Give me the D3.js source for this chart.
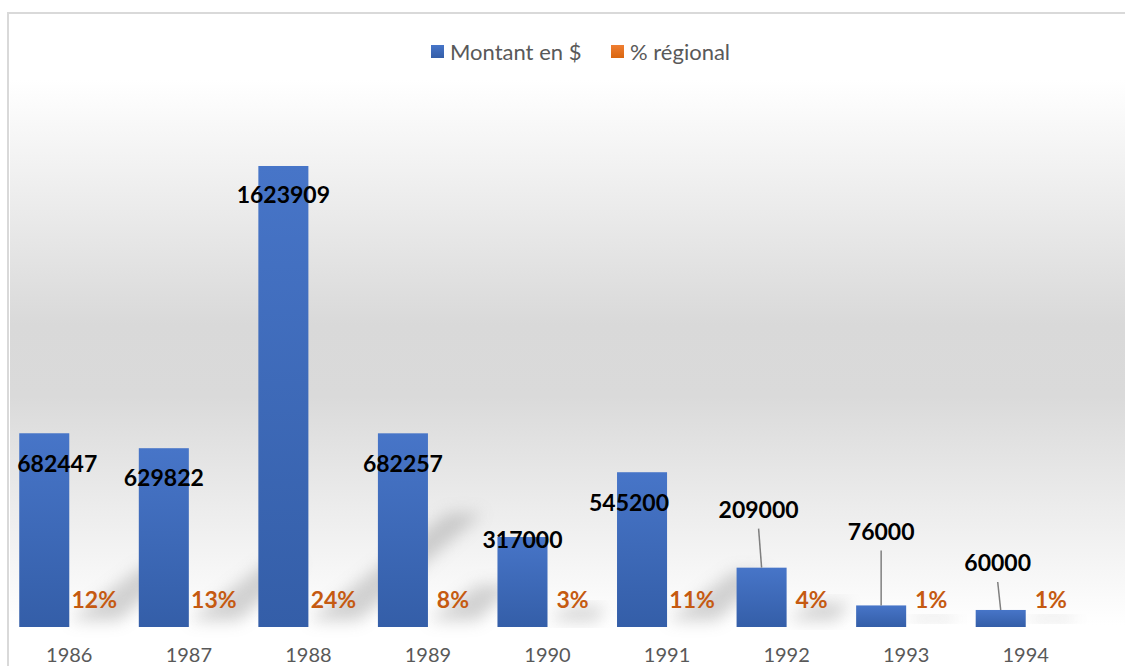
<!DOCTYPE html>
<html>
<head>
  <meta charset="utf-8">
  <title>Montant en $ et % régional</title>
  <style>
    body{
      margin: 0;
      background: #fff;
    }
    text{
      font-family: Lato, "Open Sans", sans-serif;
    }
  </style>
  <script src="https://d3js.org/d3.v7.min.js"></script>
</head>
<body>
  <div id="container"></div>

  <script>
    //*******DATA*******
    const years = ["1986", "1987", "1988", "1989", "1990", "1991", "1992", "1993", "1994"];
    const amounts = [682447, 629822, 1623909, 682257, 317000, 545200, 209000, 76000, 60000];
    const regional = [0.12, 0.13, 0.24, 0.08, 0.03, 0.11, 0.04, 0.01, 0.01];
    const seriesNames = ["Montant en $", "% régional"];
    // hand-moved amount labels (dx, dy from the bar top), as in the original chart
    const labelShift = [[13, 30], [0, 30], [0, 29], [0, 30], [0, 3], [-13, 30], [-3, -58], [0, -74], [-3, -47]];
    const hasLeader = [false, false, false, false, false, false, true, true, true];

    //*******CONSTANTS*******
    const width = 1125,
          height = 666;
    const plot = {left: 9.5, right: 1085.5, top: 116, bottom: 627};
    const orange = "#c55a11",
          grey = "#595959";

    var svg = d3.select("#container")
      .append("svg")
      .attr("width", width)
      .attr("height", height)
      .style("display", "block");

    var defs = svg.append("defs");

    // background of the plot: white -> grey -> white
    var bg = defs.append("linearGradient")
      .attr("id", "bgGrad")
      .attr("x1", 0).attr("y1", 0).attr("x2", 0).attr("y2", 1);
    bg.append("stop").attr("offset", "0%").attr("stop-color", "#ffffff");
    bg.append("stop").attr("offset", "45%").attr("stop-color", "#d9d9d9");
    bg.append("stop").attr("offset", "58%").attr("stop-color", "#dadada");
    bg.append("stop").attr("offset", "100%").attr("stop-color", "#ffffff");

    var barGrad = defs.append("linearGradient")
      .attr("id", "barGrad")
      .attr("x1", 0).attr("y1", 0).attr("x2", 0).attr("y2", 1);
    barGrad.append("stop").attr("offset", "0%").attr("stop-color", "#4775c8");
    barGrad.append("stop").attr("offset", "100%").attr("stop-color", "#345ea8");

    var legGrad = defs.append("linearGradient")
      .attr("id", "legGrad")
      .attr("x1", 0).attr("y1", 0).attr("x2", 0).attr("y2", 1);
    legGrad.append("stop").attr("offset", "0%").attr("stop-color", "#ef7e32");
    legGrad.append("stop").attr("offset", "100%").attr("stop-color", "#d9660f");

    defs.append("filter")
      .attr("id", "blur")
      .attr("x", "-50%").attr("y", "-50%").attr("width", "200%").attr("height", "200%")
      .append("feGaussianBlur")
      .attr("stdDeviation", 8);

    svg.append("rect")
      .attr("x", 10)
      .attr("y", 80)
      .attr("width", width - 10)
      .attr("height", 545)
      .attr("fill", "url(#bgGrad)");

    // chart border (only top and left are in frame)
    svg.append("path")
      .attr("d", "M8," + height + "V13H" + width)
      .attr("fill", "none")
      .attr("stroke", "#d9d9d9")
      .attr("stroke-width", 2);

    //*******SCALES*******
    var x = d3.scaleBand()
      .domain(years)
      .range([plot.left, plot.right])
      .paddingInner(0.163)
      .paddingOuter(0.0815);

    var xSub = d3.scaleBand()
      .domain(seriesNames)
      .range([0, x.bandwidth()]);

    var y = d3.scaleLinear()
      .domain([0, 1800000])
      .range([plot.bottom, plot.top]);

    var data = years.map(function(d, i){
      return {year: d, amount: amounts[i], pct: regional[i], shift: labelShift[i], leader: hasLeader[i]};
    });

    //*******SHADOWS of the % series (perspective, blurred)*******
    svg.append("g")
      .selectAll("path")
      .data(data)
      .enter()
      .append("path")
      .attr("d", function(d){
        var x0 = x(d.year) + xSub(seriesNames[1]);
        var w = xSub.bandwidth();
        var dx = d.pct * 560, dy = d.pct * 450;
        var b = y(0) - 6;
        return "M" + x0 + "," + b +
               "L" + (x0 + w) + "," + b +
               "L" + (x0 + dx + w * 0.8) + "," + (b - dy) +
               "L" + (x0 + dx + w * 0.1) + "," + (b - dy) + "Z";
      })
      .attr("fill", "#8c8c8c")
      .attr("opacity", 0.38)
      .attr("filter", "url(#blur)");

    //*******BARS*******
    svg.append("g")
      .selectAll("rect")
      .data(data)
      .enter()
      .append("rect")
      .attr("x", function(d){return x(d.year) + xSub(seriesNames[0]);})
      .attr("y", function(d){return y(d.amount);})
      .attr("width", xSub.bandwidth())
      .attr("height", function(d){return y(0) - y(d.amount);})
      .attr("fill", "url(#barGrad)");

    //*******LEADER LINES*******
    svg.append("g")
      .selectAll("line")
      .data(data.filter(function(d){return d.leader;}))
      .enter()
      .append("line")
      .attr("x1", function(d){return x(d.year) + xSub(seriesNames[0]) + xSub.bandwidth() / 2 + d.shift[0];})
      .attr("y1", function(d){return y(d.amount) + d.shift[1] + 19;})
      .attr("x2", function(d){return x(d.year) + xSub(seriesNames[0]) + xSub.bandwidth() / 2;})
      .attr("y2", function(d){return y(d.amount);})
      .attr("stroke", "#7f7f7f")
      .attr("stroke-width", 1.5);

    //*******LABELS*******
    svg.append("g")
      .selectAll("text")
      .data(data)
      .enter()
      .append("text")
      .attr("x", function(d){return x(d.year) + xSub(seriesNames[0]) + xSub.bandwidth() / 2 + d.shift[0];})
      .attr("y", function(d){return y(d.amount) + d.shift[1];})
      .attr("dy", "0.36em")
      .attr("text-anchor", "middle")
      .attr("font-size", 23)
      .attr("font-weight", "bold")
      .attr("fill", "#000")
      .text(function(d){return d.amount;});

    svg.append("g")
      .selectAll("text")
      .data(data)
      .enter()
      .append("text")
      .attr("x", function(d){return x(d.year) + xSub(seriesNames[1]) + xSub.bandwidth() / 2;})
      .attr("y", function(d){return y(d.pct) - 27;})
      .attr("dy", "0.36em")
      .attr("text-anchor", "middle")
      .attr("font-size", 23)
      .attr("font-weight", "bold")
      .attr("fill", orange)
      .text(function(d){return d3.format(".0%")(d.pct);});

    //*******AXIS*******
    var xAxis = svg.append("g")
      .attr("transform", "translate(0," + plot.bottom + ")")
      .call(d3.axisBottom(x).tickSize(0).tickPadding(21));
    xAxis.select(".domain").remove();
    xAxis.selectAll("text")
      .attr("font-family", "Lato, sans-serif")
      .attr("font-size", 20)
      .attr("fill", grey);

    //*******LEGEND*******
    var legendItems = [
      {name: seriesNames[0], fill: "url(#barGrad)", x: 431},
      {name: seriesNames[1], fill: "url(#legGrad)", x: 611}
    ];
    var legend = svg.append("g")
      .selectAll("g")
      .data(legendItems)
      .enter()
      .append("g")
      .attr("transform", function(d){return "translate(" + d.x + ",45)";});
    legend.append("rect")
      .attr("width", 13)
      .attr("height", 13)
      .attr("fill", function(d){return d.fill;});
    legend.append("text")
      .attr("x", 19)
      .attr("y", 7)
      .attr("dy", "0.36em")
      .attr("font-size", 22)
      .attr("fill", grey)
      .text(function(d){return d.name;});
  </script>
</body>
</html>
